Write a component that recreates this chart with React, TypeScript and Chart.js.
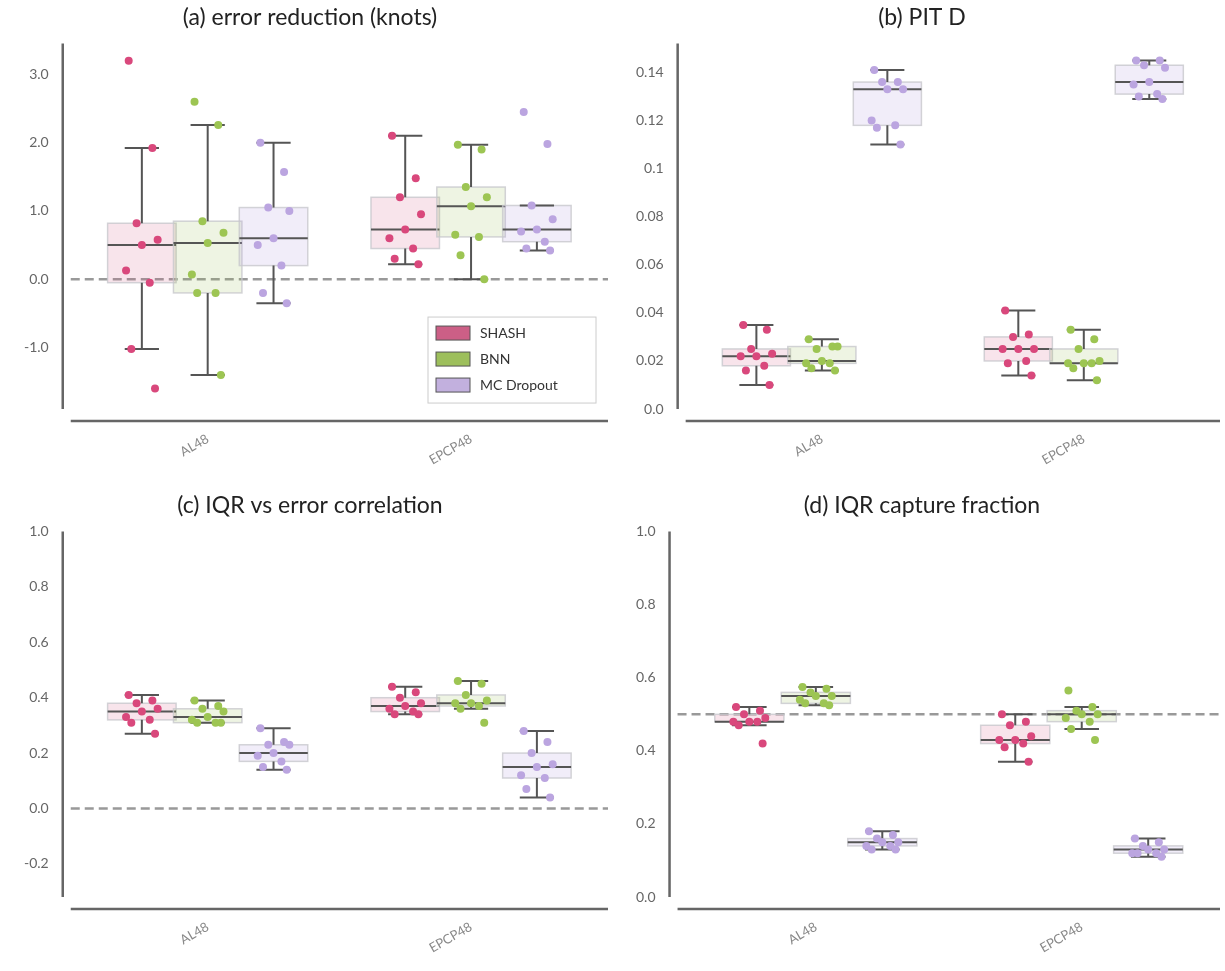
import React, { useEffect, useRef } from 'react';
import { Chart, registerables } from 'chart.js';

Chart.register(...registerables);

const stations = ['AL48', 'EPCP48'];
const models = ['SHASH', 'BNN', 'MC Dropout'];
const pointColors = ['#d9487c', '#9dc553', '#bba5e0'];
const boxFills = ['rgba(214,92,136,0.17)', 'rgba(157,192,90,0.17)', 'rgba(187,165,224,0.2)'];
const legendFills = ['#cc5f86', '#9dbf5c', '#c2b0de'];

// values per panel: [station][model] -> points
const errorReduction = [
  [[3.2, 1.92, 0.82, 0.58, 0.5, 0.13, -0.05, -1.02, -1.6],
   [2.6, 2.26, 0.85, 0.68, 0.53, 0.07, -0.2, -0.2, -1.4],
   [2.0, 1.57, 1.05, 1.0, 0.6, 0.5, 0.2, -0.2, -0.35]],
  [[2.1, 1.48, 1.2, 0.95, 0.73, 0.6, 0.45, 0.3, 0.22],
   [1.97, 1.9, 1.35, 1.2, 1.07, 0.65, 0.62, 0.35, 0.0],
   [2.45, 1.98, 1.08, 0.88, 0.73, 0.7, 0.55, 0.45, 0.42]],
];
const pitD = [
  [[0.035, 0.033, 0.025, 0.023, 0.022, 0.022, 0.018, 0.016, 0.01],
   [0.029, 0.026, 0.025, 0.026, 0.02, 0.019, 0.019, 0.017, 0.016],
   [0.141, 0.136, 0.136, 0.133, 0.133, 0.12, 0.118, 0.117, 0.11]],
  [[0.041, 0.031, 0.03, 0.025, 0.025, 0.025, 0.02, 0.019, 0.014],
   [0.033, 0.029, 0.025, 0.02, 0.019, 0.019, 0.019, 0.017, 0.012],
   [0.145, 0.145, 0.143, 0.142, 0.136, 0.135, 0.131, 0.13, 0.129]],
];
const iqrCorr = [
  [[0.41, 0.39, 0.38, 0.36, 0.35, 0.33, 0.32, 0.31, 0.27],
   [0.39, 0.37, 0.36, 0.35, 0.33, 0.32, 0.31, 0.31, 0.31],
   [0.29, 0.24, 0.23, 0.23, 0.2, 0.19, 0.17, 0.15, 0.14]],
  [[0.44, 0.42, 0.4, 0.38, 0.37, 0.36, 0.35, 0.34, 0.34],
   [0.46, 0.45, 0.41, 0.39, 0.38, 0.38, 0.37, 0.36, 0.31],
   [0.28, 0.24, 0.2, 0.16, 0.15, 0.12, 0.11, 0.07, 0.04]],
];
const iqrCapture = [
  [[0.52, 0.51, 0.5, 0.49, 0.48, 0.48, 0.48, 0.47, 0.42],
   [0.575, 0.57, 0.56, 0.55, 0.55, 0.54, 0.53, 0.53, 0.525],
   [0.18, 0.17, 0.16, 0.15, 0.15, 0.14, 0.14, 0.13, 0.13]],
  [[0.5, 0.48, 0.47, 0.44, 0.43, 0.43, 0.42, 0.41, 0.37],
   [0.565, 0.52, 0.51, 0.5, 0.5, 0.49, 0.48, 0.46, 0.43],
   [0.16, 0.15, 0.14, 0.13, 0.13, 0.12, 0.12, 0.12, 0.11]],
];

const jitter = [-0.05, 0.04, -0.02, 0.06, 0.0, -0.06, 0.03, -0.04, 0.05];
const groupOffset = 0.25;
const boxWidth = 0.26;

function quantile(sorted: number[], q: number) {
  const pos = (sorted.length - 1) * q;
  const lo = Math.floor(pos);
  const hi = Math.ceil(pos);
  return sorted[lo] + (sorted[hi] - sorted[lo]) * (pos - lo);
}

function stats(values: number[]) {
  const s = [...values].sort((a, b) => a - b);
  const q1 = quantile(s, 0.25);
  const med = quantile(s, 0.5);
  const q3 = quantile(s, 0.75);
  const iqr = q3 - q1;
  const lo = s.filter((v) => v >= q1 - 1.5 * iqr)[0];
  const hiArr = s.filter((v) => v <= q3 + 1.5 * iqr);
  return { q1, med, q3, lo, hi: hiArr[hiArr.length - 1] };
}

interface PanelProps {
  title: string;
  data: number[][][];
  yMin: number;
  yMax: number;
  step: number;
  refLine?: number;
  legend?: boolean;
  fmt: (v: number) => string;
}

const FONT = 'Lato, "DejaVu Sans", sans-serif';

const Panel: React.FC<PanelProps> = ({ title, data, yMin, yMax, step, refLine, legend, fmt }) => {
  const ref = useRef<HTMLCanvasElement | null>(null);

  useEffect(() => {
    if (!ref.current) return;
    const datasets = models.map((m, mi) => ({
      type: 'scatter' as const,
      label: m,
      data: stations.flatMap((_, si) =>
        data[si][mi].map((v, k) => ({ x: si + (mi - 1) * groupOffset + jitter[k], y: v }))),
      backgroundColor: pointColors[mi],
      borderWidth: 0,
      pointRadius: 4,
    }));

    const boxPlugin = {
      id: 'boxes',
      beforeDatasetsDraw(chart: any) {
        const { ctx, chartArea, scales } = chart;
        const xs = scales.x;
        const ys = scales.y;
        ctx.save();
        // spines
        ctx.strokeStyle = '#666';
        ctx.lineWidth = 2.5;
        ctx.beginPath();
        ctx.moveTo(chartArea.left - 8, chartArea.top);
        ctx.lineTo(chartArea.left - 8, chartArea.bottom);
        ctx.moveTo(chartArea.left, chartArea.bottom + 12);
        ctx.lineTo(chartArea.right, chartArea.bottom + 12);
        ctx.stroke();
        if (refLine !== undefined) {
          ctx.strokeStyle = '#999';
          ctx.lineWidth = 2.5;
          ctx.setLineDash([9, 5]);
          ctx.beginPath();
          ctx.moveTo(chartArea.left, ys.getPixelForValue(refLine));
          ctx.lineTo(chartArea.right, ys.getPixelForValue(refLine));
          ctx.stroke();
          ctx.setLineDash([]);
        }
        stations.forEach((_, si) => {
          models.forEach((__, mi) => {
            const st = stats(data[si][mi]);
            const c = si + (mi - 1) * groupOffset;
            const x0 = xs.getPixelForValue(c - boxWidth / 2);
            const x1 = xs.getPixelForValue(c + boxWidth / 2);
            const xc = xs.getPixelForValue(c);
            const wx0 = xs.getPixelForValue(c - boxWidth / 4);
            const wx1 = xs.getPixelForValue(c + boxWidth / 4);
            const yq1 = ys.getPixelForValue(st.q1);
            const yq3 = ys.getPixelForValue(st.q3);
            ctx.fillStyle = boxFills[mi];
            ctx.fillRect(x0, yq3, x1 - x0, yq1 - yq3);
            ctx.strokeStyle = 'rgba(200,200,205,0.8)';
            ctx.lineWidth = 1.5;
            ctx.strokeRect(x0, yq3, x1 - x0, yq1 - yq3);
            ctx.strokeStyle = '#555';
            ctx.lineWidth = 2;
            ctx.beginPath();
            const ylo = ys.getPixelForValue(st.lo);
            const yhi = ys.getPixelForValue(st.hi);
            ctx.moveTo(xc, yq3); ctx.lineTo(xc, yhi);
            ctx.moveTo(xc, yq1); ctx.lineTo(xc, ylo);
            ctx.moveTo(wx0, yhi); ctx.lineTo(wx1, yhi);
            ctx.moveTo(wx0, ylo); ctx.lineTo(wx1, ylo);
            const ym = ys.getPixelForValue(st.med);
            ctx.moveTo(x0, ym); ctx.lineTo(x1, ym);
            ctx.stroke();
          });
        });
        ctx.restore();
      },
      afterDatasetsDraw(chart: any) {
        if (!legend) return;
        const { ctx, chartArea } = chart;
        const w = 168, h = 86;
        const lx = chartArea.right - w - 12;
        const ly = chartArea.bottom - h - 6;
        ctx.save();
        ctx.fillStyle = 'rgba(255,255,255,0.9)';
        ctx.strokeStyle = '#ccc';
        ctx.lineWidth = 1;
        ctx.fillRect(lx, ly, w, h);
        ctx.strokeRect(lx, ly, w, h);
        ctx.font = `14px ${FONT}`;
        ctx.textBaseline = 'middle';
        models.forEach((m, i) => {
          const y = ly + 16 + i * 26;
          ctx.fillStyle = legendFills[i];
          ctx.fillRect(lx + 8, y - 7, 34, 14);
          ctx.strokeStyle = '#555';
          ctx.strokeRect(lx + 8, y - 7, 34, 14);
          ctx.fillStyle = '#333';
          ctx.fillText(m, lx + 52, y);
        });
        ctx.restore();
      },
    };

    const chart = new Chart(ref.current, {
      type: 'scatter',
      data: { datasets },
      options: {
        animation: false,
        responsive: true,
        maintainAspectRatio: false,
        layout: { padding: { left: 10, right: 2, top: 0, bottom: 0 } },
        plugins: {
          legend: { display: false },
          tooltip: { enabled: false },
          title: {
            display: true,
            text: title,
            color: '#222',
            font: { size: 23, family: FONT, weight: 'normal' },
            padding: { top: 4, bottom: 12 },
          },
        },
        scales: {
          x: {
            type: 'linear',
            min: -0.52,
            max: 1.52,
            grid: { display: false },
            border: { display: false },
            afterBuildTicks: (s: any) => { s.ticks = [{ value: 0 }, { value: 1 }]; },
            ticks: {
              callback: (v: any) => stations[Math.round(Number(v))] ?? '',
              color: '#888',
              font: { size: 13, family: FONT },
              minRotation: 30,
              maxRotation: 30,
              padding: 14,
            },
          },
          y: {
            min: yMin,
            max: yMax,
            grid: { display: false },
            border: { display: false },
            afterBuildTicks: (s: any) => {
              const t = [];
              const start = Math.ceil(yMin / step - 1e-9) * step;
              for (let v = start; v <= yMax + 1e-9; v += step) t.push({ value: Math.round(v * 1e6) / 1e6 });
              s.ticks = t;
            },
            ticks: {
              callback: (v: any) => fmt(Number(v)),
              color: '#666',
              font: { size: 14, family: FONT },
              padding: 14,
            },
          },
        },
      },
      plugins: [boxPlugin],
    });
    return () => chart.destroy();
  }, [title, data, yMin, yMax, step, refLine, legend, fmt]);

  return <canvas ref={ref} />;
};

const fix1 = (v: number) => v.toFixed(1);
const fixPit = (v: number) => (v === 0 ? '0.0' : String(Math.round(v * 100) / 100));

const App: React.FC = () => {
  useEffect(() => {
    document.body.style.margin = '0';
  }, []);
  const cell = (x: number, y: number): React.CSSProperties => ({
    position: 'absolute', left: x, top: y, width: 612, height: 482,
  });
  return (
    <div style={{ position: 'relative', width: 1225, height: 971, background: '#fff' }}>
      <div style={cell(0, 0)}>
        <Panel title="(a) error reduction (knots)" data={errorReduction} yMin={-1.9} yMax={3.45} step={1} refLine={0} legend fmt={fix1} />
      </div>
      <div style={cell(612, 0)}>
        <Panel title="(b) PIT D" data={pitD} yMin={0} yMax={0.152} step={0.02} fmt={fixPit} />
      </div>
      <div style={cell(0, 488)}>
        <Panel title="(c) IQR vs error correlation" data={iqrCorr} yMin={-0.32} yMax={1.0} step={0.2} refLine={0} fmt={fix1} />
      </div>
      <div style={cell(612, 488)}>
        <Panel title="(d) IQR capture fraction" data={iqrCapture} yMin={0} yMax={1.0} step={0.2} refLine={0.5} fmt={fix1} />
      </div>
    </div>
  );
};

export default App;
